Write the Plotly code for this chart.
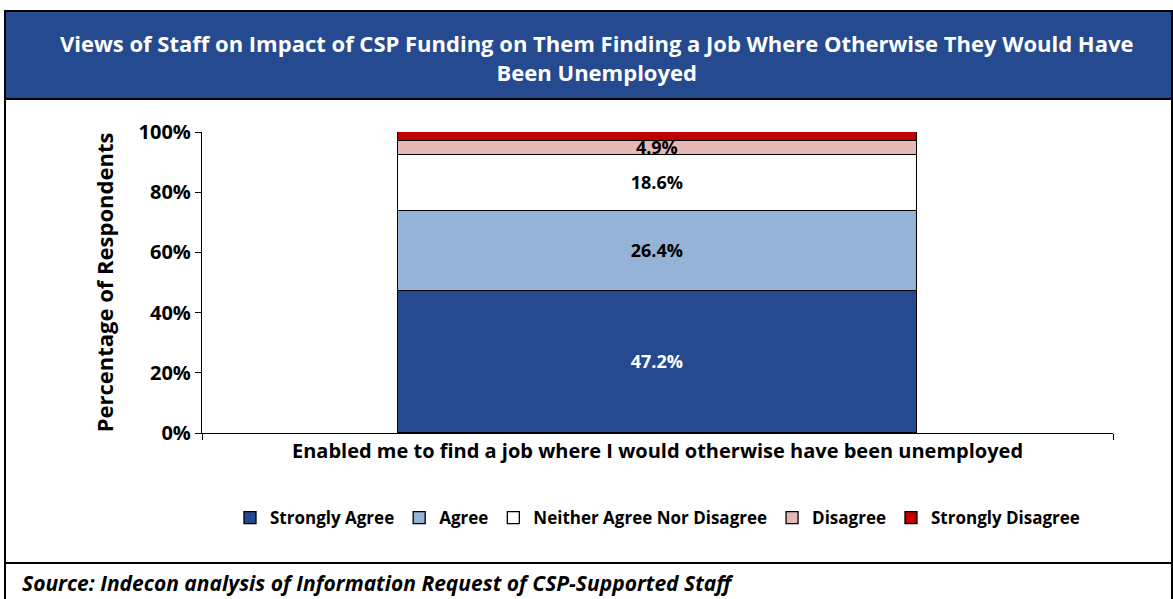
import plotly.graph_objects as go

# Survey responses (percentage of respondents)
category = ["Enabled me to find a job where I would otherwise have been unemployed"]
series_names = ["Strongly Agree", "Agree", "Neither Agree Nor Disagree", "Disagree", "Strongly Disagree"]
strongly_agree = [47.2]
agree = [26.4]
neither = [18.6]
disagree = [4.9]
strongly_disagree = [2.9]
label_shown = [True, True, True, True, False]
y_ticks = [0, 20, 40, 60, 80, 100]

colors = ["#254A8F", "#95B3D7", "#FFFFFF", "#E6B9B8", "#C00000"]
text_colors = ["white", "black", "black", "black", "black"]
series_values = [strongly_agree, agree, neither, disagree, strongly_disagree]

W, H = 1173, 599
L, R, T, B = 202, 1113, 132, 433  # plot area in pixels
FONT = "Open Sans"


def px_x(p):
    return (p - L) / (R - L)


def px_y(p):
    return (B - p) / (B - T)


def bold(s):
    return f"<b>{s}</b>"


fig = go.Figure()
for name, vals, col, tcol, show in zip(series_names, series_values, colors, text_colors, label_shown):
    fig.add_trace(go.Bar(
        name=bold(name),
        x=[bold(c) for c in category],
        y=vals,
        marker=dict(color=col, line=dict(color="black", width=1.3)),
        width=0.57,
        text=[bold(f"{v:.1f}%") for v in vals] if show else None,
        textposition="inside",
        insidetextanchor="middle",
        textfont=dict(family=FONT, size=18, color=tcol),
        hoverinfo="skip",
    ))

shapes = [
    # title banner
    dict(type="rect", xref="paper", yref="paper",
         x0=px_x(5), x1=px_x(1172), y0=px_y(99), y1=px_y(11),
         fillcolor="#254A8F", line=dict(color="black", width=2), layer="below"),
    # outer frame
    dict(type="rect", xref="paper", yref="paper",
         x0=px_x(5), x1=px_x(1172), y0=px_y(600), y1=px_y(11),
         fillcolor="rgba(0,0,0,0)", line=dict(color="black", width=2), layer="below"),
    # separator above source line
    dict(type="line", xref="paper", yref="paper",
         x0=px_x(5), x1=px_x(1172), y0=px_y(563), y1=px_y(563),
         line=dict(color="black", width=2)),
]

annotations = [
    dict(text=bold("Views of Staff on Impact of CSP Funding on Them Finding a Job Where Otherwise They Would Have<br>Been Unemployed"),
         xref="paper", yref="paper", x=px_x(597), y=px_y(58), xanchor="center", yanchor="middle",
         showarrow=False, align="center",
         font=dict(family=FONT, size=22, color="white")),
    dict(text="<b><i>Source: Indecon analysis of Information Request of CSP-Supported Staff</i></b>",
         xref="paper", yref="paper", x=px_x(20), y=px_y(583), xanchor="left", yanchor="middle",
         showarrow=False, font=dict(family=FONT, size=21, color="black")),
]

fig.update_layout(
    width=W, height=H,
    margin=dict(l=L, r=W - R, t=T, b=H - B, autoexpand=False),
    barmode="stack",
    bargap=0,
    plot_bgcolor="white",
    paper_bgcolor="white",
    font=dict(family=FONT, size=17, color="black"),
    uniformtext=dict(minsize=18, mode="show"),
    showlegend=True,
    legend=dict(orientation="h", x=0.5, xanchor="center",
                y=px_y(518), yanchor="middle",
                font=dict(family=FONT, size=17, color="black"),
                traceorder="normal", itemwidth=30, bgcolor="rgba(0,0,0,0)"),
    shapes=shapes,
    annotations=annotations,
)

fig.update_xaxes(
    range=[-0.5, 0.5],
    showline=True, linecolor="black", linewidth=1.3,
    ticks="outside", tickson="boundaries", ticklen=6, tickcolor="black",
    tickangle=0, automargin=False,
    tickfont=dict(family=FONT, size=20, color="black"),
    showgrid=False,
)
fig.update_yaxes(
    range=[0, 100],
    tickvals=y_ticks,
    ticktext=[bold(f"{v}%") for v in y_ticks],
    showline=True, linecolor="black", linewidth=1.3,
    ticks="outside", ticklen=6, tickcolor="black",
    automargin=False,
    tickfont=dict(family=FONT, size=20, color="black"),
    title=dict(text=bold("Percentage of Respondents"), standoff=18,
               font=dict(family=FONT, size=22, color="black")),
    showgrid=False, zeroline=False,
)

fig.write_html("out.html")
